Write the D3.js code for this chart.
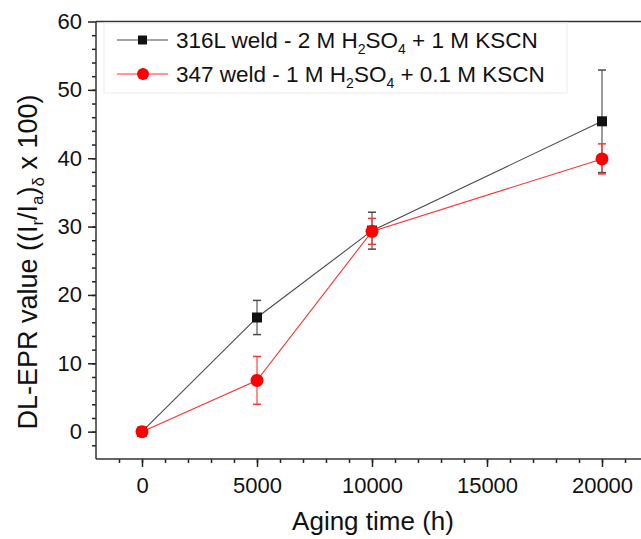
<!DOCTYPE html>
<html>
<head>
<meta charset="utf-8">
<script src="https://cdn.jsdelivr.net/npm/d3@7"></script>
<style>
  body { margin: 0; background: #fff; }
  svg text { font-family: "Liberation Sans", Arial, sans-serif; fill: #111; }
</style>
</head>
<body>
<svg id="chart" width="641" height="539"></svg>
<script>
// aging time (h)
const agingTime = [0, 5000, 10000, 20000];

// 316L weld - 2 M H2SO4 + 1 M KSCN
const weld316Value = [0, 16.7, 29.4, 45.4];
const weld316Err = [0, 2.5, 2.7, 7.5];

// 347 weld - 1 M H2SO4 + 0.1 M KSCN
const weld347Value = [0, 7.5, 29.3, 39.9];
const weld347Err = [0, 3.5, 1.9, 2.2];

const xTicks = [0, 5000, 10000, 15000, 20000];
const yTicks = [0, 10, 20, 30, 40, 50, 60];

const series = [
    { name: "316L", values: weld316Value, errs: weld316Err, color: "#111", lineColor: "#4a4a4a",
      label: ["316L weld - 2 M H", "2", "SO", "4", " + 1 M KSCN"], shape: "square" },
    { name: "347", values: weld347Value, errs: weld347Err, color: "#ff0000", lineColor: "#ff3030",
      label: ["347 weld - 1 M H", "2", "SO", "4", " + 0.1 M KSCN"], shape: "circle" }
];

const svg = d3.select("#chart");
const margin = { left: 96, top: 21.5, bottom: 459 };

const x = d3.scaleLinear().domain([-2000, 22000]).range([margin.left, 648]);
const y = d3.scaleLinear().domain([-4, 60]).range([margin.bottom, margin.top]);

// frame top line
svg.append("line")
    .attr("x1", margin.left).attr("x2", 641)
    .attr("y1", margin.top).attr("y2", margin.top)
    .attr("stroke", "#333").attr("stroke-width", 1.5);

// x axis
const xAxis = svg.append("g")
    .attr("transform", `translate(0,${margin.bottom})`);
xAxis.call(d3.axisBottom(x).tickValues(d3.range(-1000, 22000, 1000)).tickSize(4).tickFormat(""))
    .selectAll(".tick line").attr("stroke", "#222").attr("stroke-width", 1.5);
xAxis.select(".domain").remove();
const xMajor = svg.append("g")
    .attr("transform", `translate(0,${margin.bottom})`)
    .call(d3.axisBottom(x).tickValues(xTicks).tickSize(8).tickPadding(10).tickFormat(d3.format("d")));
xMajor.select(".domain").remove();
xMajor.selectAll(".tick line").attr("stroke", "#222").attr("stroke-width", 1.5);
xMajor.selectAll("text").style("font-size", "22px");
svg.append("line")
    .attr("x1", margin.left).attr("x2", 641)
    .attr("y1", margin.bottom).attr("y2", margin.bottom)
    .attr("stroke", "#333").attr("stroke-width", 1.5);

// y axis
const yMinor = svg.append("g")
    .attr("transform", `translate(${margin.left},0)`)
    .call(d3.axisLeft(y).tickValues(d3.range(-2, 60, 2)).tickSize(4).tickFormat(""));
yMinor.select(".domain").remove();
yMinor.selectAll(".tick line").attr("stroke", "#222").attr("stroke-width", 1.5);
const yMajor = svg.append("g")
    .attr("transform", `translate(${margin.left},0)`)
    .call(d3.axisLeft(y).tickValues(yTicks).tickSize(8).tickPadding(6));
yMajor.select(".domain").remove();
yMajor.selectAll(".tick line").attr("stroke", "#222").attr("stroke-width", 1.5);
yMajor.selectAll("text").style("font-size", "22px");
svg.append("line")
    .attr("x1", margin.left).attr("x2", margin.left)
    .attr("y1", margin.top).attr("y2", margin.bottom)
    .attr("stroke", "#333").attr("stroke-width", 1.5);

// axis titles
svg.append("text")
    .attr("x", 373).attr("y", 530)
    .attr("text-anchor", "middle")
    .style("font-size", "26px")
    .text("Aging time (h)");

const yTitle = svg.append("text")
    .attr("transform", "translate(37,262) rotate(-90)")
    .attr("text-anchor", "middle")
    .style("font-size", "27px");
yTitle.append("tspan").text("DL-EPR value ((I");
yTitle.append("tspan").attr("dy", 6).style("font-size", "17px").text("r");
yTitle.append("tspan").attr("dy", -6).text("/I");
yTitle.append("tspan").attr("dy", 6).style("font-size", "17px").text("a");
yTitle.append("tspan").attr("dy", -6).text(")");
yTitle.append("tspan").attr("dy", 7).style("font-size", "17px").text("δ");
yTitle.append("tspan").attr("dy", -7).text(" x 100)");

// lines, error bars, markers
const line = d3.line().x((d, i) => x(agingTime[i])).y(d => y(d));

series.forEach(s => {
    svg.append("path")
        .datum(s.values)
        .attr("d", line)
        .attr("fill", "none")
        .attr("stroke", s.lineColor)
        .attr("stroke-width", 1.1);

    const eb = svg.append("g");
    s.values.forEach((v, i) => {
        if (!s.errs[i]) return;
        const cx = x(agingTime[i]);
        eb.append("line").attr("x1", cx).attr("x2", cx)
            .attr("y1", y(v - s.errs[i])).attr("y2", y(v + s.errs[i]))
            .attr("stroke", s.lineColor).attr("stroke-width", 1.1);
        [v - s.errs[i], v + s.errs[i]].forEach(e => {
            eb.append("line").attr("x1", cx - 4).attr("x2", cx + 4)
                .attr("y1", y(e)).attr("y2", y(e))
                .attr("stroke", s.lineColor).attr("stroke-width", 1.5);
        });
    });
});

series.forEach(s => {
    const g = svg.append("g");
    if (s.shape === "square") {
        g.selectAll("rect").data(s.values).join("rect")
            .attr("x", (d, i) => x(agingTime[i]) - 5)
            .attr("y", d => y(d) - 5)
            .attr("width", 10).attr("height", 10)
            .attr("fill", s.color);
    } else {
        g.selectAll("circle").data(s.values).join("circle")
            .attr("cx", (d, i) => x(agingTime[i]))
            .attr("cy", d => y(d))
            .attr("r", 6.5)
            .attr("fill", s.color);
    }
});

// legend
const legend = svg.append("g");
legend.append("rect")
    .attr("x", 104).attr("y", 23).attr("width", 463).attr("height", 70)
    .attr("fill", "#fff").attr("stroke", "#ececec").attr("stroke-width", 1);

series.forEach((s, i) => {
    const ly = 40 + i * 34;
    legend.append("line")
        .attr("x1", 117).attr("x2", 168).attr("y1", ly).attr("y2", ly)
        .attr("stroke", s.lineColor).attr("stroke-width", 1.1);
    if (s.shape === "square") {
        legend.append("rect").attr("x", 138).attr("y", ly - 4.5)
            .attr("width", 9).attr("height", 9).attr("fill", s.color);
    } else {
        legend.append("circle").attr("cx", 143).attr("cy", ly).attr("r", 6)
            .attr("fill", s.color);
    }
    const t = legend.append("text")
        .attr("x", 176).attr("y", ly + 8)
        .style("font-size", "22.5px");
    s.label.forEach((part, j) => {
        const sub = j === 1 || j === 3;
        const ts = t.append("tspan").text(part);
        if (sub) ts.attr("dy", 6).style("font-size", "14px");
        else if (j > 0) ts.attr("dy", -6);
    });
});
</script>
</body>
</html>
